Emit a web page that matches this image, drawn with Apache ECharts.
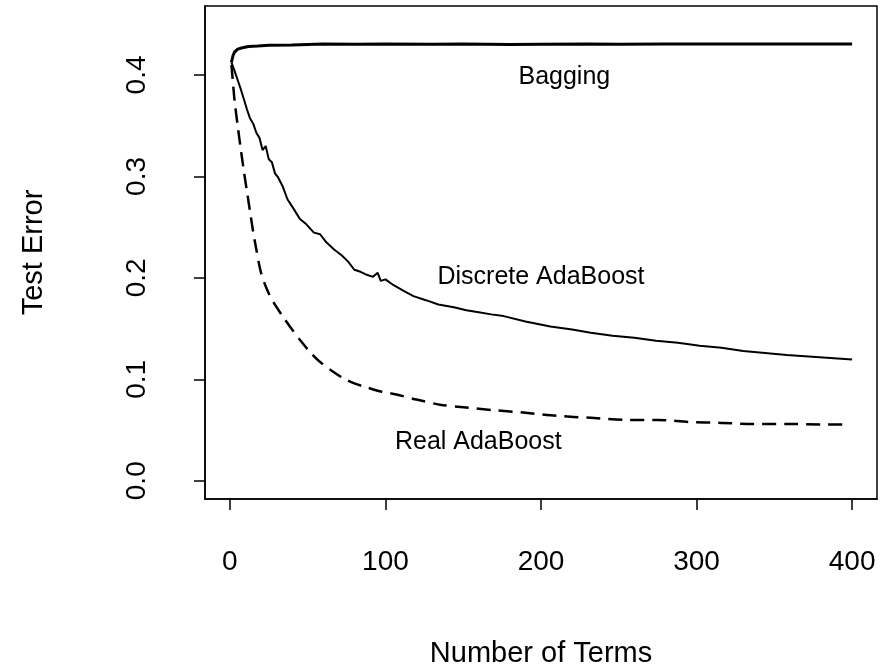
<!DOCTYPE html>
<html>
<head>
<meta charset="utf-8">
<script src="https://cdn.jsdelivr.net/npm/echarts@6/dist/echarts.min.js"></script>
<style>
html,body{margin:0;padding:0;background:#fff;}
#chart{width:893px;height:668px;}
</style>
</head>
<body>
<div id="chart"></div>
<script>
// ---- data ----
var xTicks = [0, 100, 200, 300, 400];
var yTicks = [0.0, 0.1, 0.2, 0.3, 0.4];

var baggingX = [1, 2, 3, 5, 8, 12, 18, 25, 40, 60, 80, 100, 130, 150, 180, 200, 230, 250, 280, 300, 330, 350, 380, 400];
var baggingY = [0.4125, 0.419, 0.4225, 0.4255, 0.4268, 0.428, 0.4285, 0.4292, 0.4296, 0.4305, 0.4302, 0.4306, 0.4303, 0.4306, 0.4300, 0.4303, 0.4306, 0.4304, 0.4306, 0.4305, 0.4306, 0.4305, 0.4306, 0.4305];

var discreteX = [1, 3, 5, 7, 9, 11, 13, 15, 17, 19, 21, 23, 25, 27, 29, 31, 34, 37, 41, 45, 49, 54, 58, 62, 67, 72, 76, 80, 84, 88, 92, 95, 97, 100, 105, 112, 118, 126, 134, 144, 152, 160, 168, 176, 190, 206, 220, 232, 246, 260, 274, 288, 302, 316, 330, 344, 358, 372, 386, 400];
var discreteY = [0.4125, 0.404, 0.395, 0.386, 0.376, 0.366, 0.357, 0.352, 0.343, 0.338, 0.326, 0.330, 0.317, 0.314, 0.303, 0.299, 0.290, 0.2775, 0.268, 0.258, 0.253, 0.2446, 0.243, 0.235, 0.228, 0.222, 0.216, 0.208, 0.206, 0.203, 0.201, 0.205, 0.197, 0.1985, 0.193, 0.187, 0.182, 0.178, 0.1738, 0.171, 0.168, 0.166, 0.164, 0.1623, 0.157, 0.152, 0.149, 0.1459, 0.143, 0.141, 0.138, 0.136, 0.133, 0.131, 0.128, 0.126, 0.124, 0.1225, 0.121, 0.1195];

var realX = [1, 2, 3, 5, 7, 9, 11, 13, 15, 17, 20, 24, 28, 34, 40, 46, 52, 58, 65, 73, 80, 88, 97, 107, 120, 135, 150, 170, 190, 210, 232, 255, 275, 295, 316, 337, 358, 380, 397];
var realY = [0.41, 0.392, 0.375, 0.35, 0.327, 0.305, 0.285, 0.265, 0.245, 0.228, 0.205, 0.188, 0.176, 0.162, 0.149, 0.137, 0.126, 0.117, 0.109, 0.101, 0.096, 0.092, 0.088, 0.085, 0.080, 0.075, 0.0725, 0.0695, 0.067, 0.064, 0.062, 0.060, 0.060, 0.058, 0.057, 0.056, 0.056, 0.0555, 0.0553];

var labelNames = ['Bagging', 'Discrete AdaBoost', 'Real AdaBoost'];
var labelX = [215, 200, 159.7];
var labelY = [0.398, 0.2005, 0.038];

function zip(xs, ys) { return xs.map(function (x, i) { return [x, ys[i]]; }); }

var FONT = '"Liberation Sans", Arial, Helvetica, sans-serif';
var chart = echarts.init(document.getElementById('chart'), null, { renderer: 'canvas' });

chart.setOption({
  animation: false,
  backgroundColor: '#fff',
  grid: {
    left: 205, right: 16, top: 6, bottom: 169,
    containLabel: false, outerBoundsMode: 'none',
    show: true, borderColor: '#000', borderWidth: 1.5, backgroundColor: 'transparent'
  },
  xAxis: {
    type: 'value',
    min: -16, max: 416,
    name: 'Number of Terms',
    nameLocation: 'middle',
    nameGap: 140,
    nameTextStyle: { fontFamily: FONT, fontSize: 29, color: '#000' },
    axisLine: { show: true, onZero: false, lineStyle: { color: '#000', width: 1.5 } },
    axisTick: { show: true, length: 11, customValues: xTicks, lineStyle: { color: '#000', width: 1.5 } },
    axisLabel: { show: true, customValues: xTicks, margin: 49, fontFamily: FONT, fontSize: 28, color: '#000',
      formatter: function (v) { return String(v); } },
    splitLine: { show: false }
  },
  yAxis: {
    type: 'value',
    min: -0.018, max: 0.468,
    name: 'Test Error',
    nameLocation: 'middle',
    nameGap: 157,
    nameRotate: 90,
    nameTextStyle: { fontFamily: FONT, fontSize: 29, color: '#000' },
    axisLine: { show: true, onZero: false, lineStyle: { color: '#000', width: 1.5 } },
    axisTick: { show: true, length: 11, customValues: yTicks, lineStyle: { color: '#000', width: 1.5 } },
    axisLabel: { show: true, customValues: yTicks, rotate: 90, margin: 54, fontFamily: FONT, fontSize: 28, color: '#000',
      formatter: function (v) { return v.toFixed(1); } },
    splitLine: { show: false }
  },
  series: [
    {
      name: 'Bagging', type: 'line', data: zip(baggingX, baggingY),
      showSymbol: false, symbol: 'none', smooth: false,
      lineStyle: { color: '#000', width: 3 }
    },
    {
      name: 'Discrete AdaBoost', type: 'line', data: zip(discreteX, discreteY),
      showSymbol: false, symbol: 'none',
      lineStyle: { color: '#000', width: 2 }
    },
    {
      name: 'Real AdaBoost', type: 'line', data: zip(realX, realY),
      showSymbol: false, symbol: 'none', smooth: 0.3,
      lineStyle: { color: '#000', width: 2.5, type: [14, 8] }
    },
    {
      name: 'labels', type: 'scatter', symbolSize: 0, silent: true,
      data: labelNames.map(function (n, i) { return { value: [labelX[i], labelY[i]], name: n }; }),
      label: {
        show: true, position: 'inside', formatter: function (p) { return p.name; },
        fontFamily: FONT, fontSize: 25, color: '#000000', opacity: 1, textBorderWidth: 0,
        align: 'center', verticalAlign: 'middle'
      }
    }
  ]
});
</script>
</body>
</html>
